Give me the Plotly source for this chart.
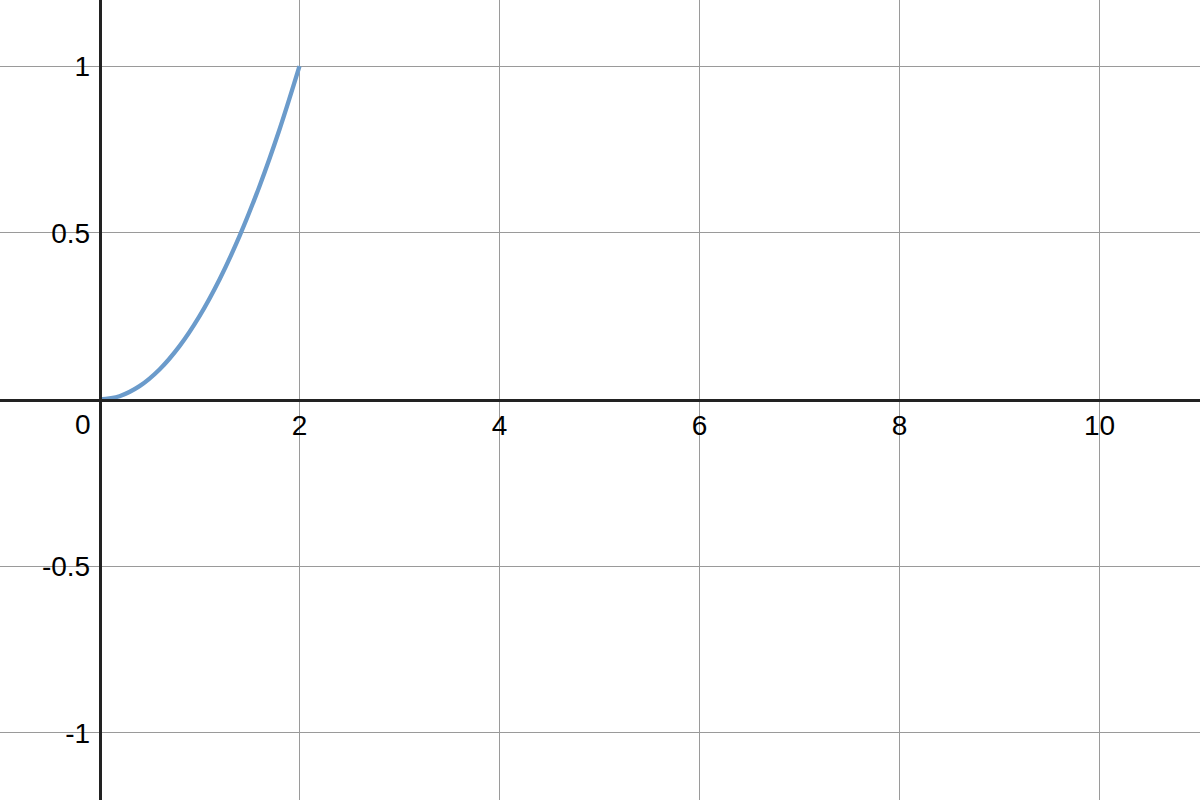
import plotly.graph_objects as go

# Curve values
curve_x = [0.0, 0.2, 0.4, 0.6, 0.8, 1.0, 1.2, 1.4, 1.6, 1.8, 2.0]
curve_y = [0.0, 0.01, 0.04, 0.09, 0.16, 0.25, 0.36, 0.49, 0.64, 0.81, 1.0]

x_ticks = [2, 4, 6, 8, 10]
x_tick_labels = ["2", "4", "6", "8", "10"]
y_ticks = [-1, -0.5, 0.5, 1]
y_tick_labels = ["-1", "-0.5", "0.5", "1"]

X_RANGE = [-0.995, 11.005]
Y_RANGE = [-1.2015, 1.1985]

fig = go.Figure()
fig.add_trace(go.Scatter(
    x=curve_x, y=curve_y, mode="lines",
    line=dict(color="#6b9bcb", width=4.3, shape="spline"),
    hoverinfo="skip", showlegend=False,
))

x_pos = (0 - X_RANGE[0]) / (X_RANGE[1] - X_RANGE[0])
y_pos = (0 - Y_RANGE[0]) / (Y_RANGE[1] - Y_RANGE[0])

font = dict(family="Liberation Sans, Arial, sans-serif", size=28, color="#000000")

fig.update_layout(
    width=1200, height=800,
    margin=dict(l=0, r=0, t=0, b=0),
    paper_bgcolor="white", plot_bgcolor="white",
    showlegend=False,
    xaxis=dict(
        range=X_RANGE, tickvals=x_ticks, ticktext=x_tick_labels,
        showgrid=True, gridcolor="#9a9a9a", gridwidth=1,
        zeroline=False, showline=True, linecolor="#222222", linewidth=2.5,
        anchor="free", position=y_pos, side="bottom",
        ticks="", ticklabelstandoff=0, tickfont=font, fixedrange=True,
    ),
    yaxis=dict(
        range=Y_RANGE, tickvals=y_ticks, ticktext=y_tick_labels,
        showgrid=True, gridcolor="#9a9a9a", gridwidth=1,
        zeroline=False, showline=True, linecolor="#222222", linewidth=2.5,
        anchor="free", position=x_pos, side="left",
        ticks="", ticklabelstandoff=3, tickfont=font, fixedrange=True,
    ),
    annotations=[dict(
        x=0, y=0, xref="x", yref="y", text="0", showarrow=False,
        xanchor="right", yanchor="top", xshift=-7, yshift=-7, font=font,
    )],
)

fig.write_html(
    "out.html",
    config={"displayModeBar": False},
    post_script="document.body.style.margin='0';document.body.style.overflow='hidden';",
)
